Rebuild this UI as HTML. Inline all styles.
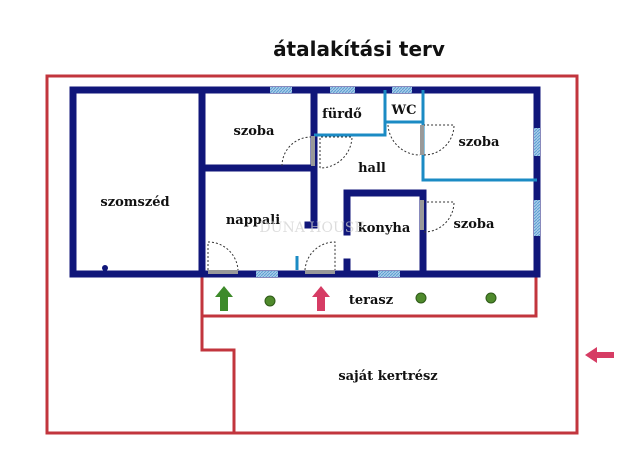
<!DOCTYPE html>
<html><head><meta charset="utf-8"><style>
body{margin:0;background:#fff;width:640px;height:461px;overflow:hidden}
svg{display:block}
text{font-family:"DejaVu Serif","Liberation Serif",serif;font-weight:bold;fill:#111}
</style></head><body>
<svg width="640" height="461" viewBox="0 0 640 461">
<defs><pattern id="h" width="3" height="3" patternUnits="userSpaceOnUse"><rect width="3" height="3" fill="#a9cde9"/><path d="M0 3L3 0" stroke="#5d9fd3" stroke-width="1"/></pattern></defs>
<text x="359" y="56" font-size="20" text-anchor="middle" style="font-family:'DejaVu Sans','Liberation Sans',sans-serif">átalakítási terv</text>
<g fill="none" stroke="#c2353d" stroke-width="3">
<rect x="47" y="76" width="530" height="357"/>
<path d="M202 277V316H536V277"/>
<path d="M202 316V350H234V433"/>
</g>
<g stroke="#10167a" stroke-width="7" fill="none" stroke-linecap="square">
<rect x="73" y="90" width="464" height="184"/>
<path d="M202 90V274M202 168H312M314 90V225M308 225H314M347 193H423V274M347 193V232M423 193V274M347 262V274"/>
</g>
<g stroke="#1b8bc4" stroke-width="3" fill="none">
<path d="M385 90V135H314M385 122H423M423 90V180H537M297 256V270"/>
</g>
<g fill="url(#h)">
<rect x="270" y="87" width="22" height="6"/><rect x="330" y="87" width="25" height="6"/><rect x="392" y="87" width="20" height="6"/>
<rect x="534" y="128" width="6" height="28"/><rect x="534" y="200" width="6" height="36"/>
<rect x="256" y="271" width="22" height="6"/><rect x="378" y="271" width="22" height="6"/>
</g>
<g fill="#999"><rect x="208" y="270" width="30" height="4"/><rect x="305" y="270" width="30" height="4"/><rect x="311" y="136" width="4" height="30"/><rect x="420" y="125" width="4" height="30"/><rect x="420" y="200" width="4" height="30"/></g>
<g fill="none" stroke="#333" stroke-width="1" stroke-dasharray="2,2">
<path d="M282 166A29 29 0 0 1 311 137"/><path d="M320 168V137H352A32 32 0 0 1 320 168"/>
<path d="M388 125A32 32 0 0 0 420 155"/><path d="M424 155A30 30 0 0 0 454 125H424"/>
<path d="M424 232A30 30 0 0 0 454 202H424"/>
<path d="M208 270V242A30 30 0 0 1 238 270"/><path d="M305 270A30 30 0 0 1 335 242V270"/>
</g>
<circle cx="105" cy="268" r="3" fill="#10167a"/>
<g font-size="13" text-anchor="middle">
<text x="135" y="206">szomszéd</text><text x="254" y="135">szoba</text><text x="342" y="118">fürdő</text>
<text x="404" y="114">WC</text><text x="372" y="172">hall</text><text x="479" y="146">szoba</text>
<text x="253" y="224">nappali</text><text x="384" y="232">konyha</text><text x="474" y="228">szoba</text>
<text x="371" y="304">terasz</text><text x="388" y="380">saját kertrész</text>
</g>
<text x="312" y="232" font-size="14" fill="#ccc" style="fill:#cfcfcf;font-weight:normal" text-anchor="middle" opacity="0.7">DUNA HOUSE</text>
<g><path d="M224 286L233 297H228V311H220V297H215Z" fill="#3d8a2a"/><path d="M321 286L330 297H325V311H317V297H312Z" fill="#d63c64"/>
<path d="M585 355L597 347V352H614V358H597V363Z" fill="#d63c64"/></g>
<g fill="#4f8a2c" stroke="#2e5a18"><circle cx="270" cy="301" r="5"/><circle cx="421" cy="298" r="5"/><circle cx="491" cy="298" r="5"/></g>
</svg>
</body></html>
